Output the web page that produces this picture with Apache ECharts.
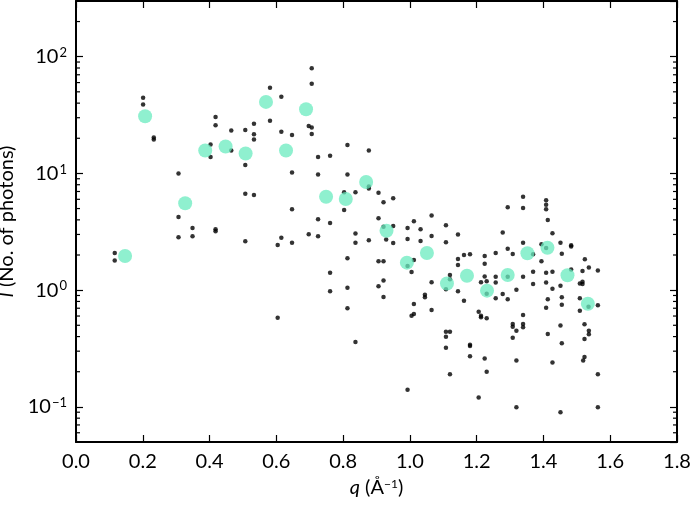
<!DOCTYPE html>
<html>
<head>
<meta charset="utf-8">
<script src="https://cdn.jsdelivr.net/npm/echarts@6/dist/echarts.min.js"></script>
<style>html,body{margin:0;padding:0;background:#fff}#c{width:692px;height:506px}</style>
</head>
<body>
<div id="c"></div>
<script>
// Binned averages (cyan)
const binQ = [0.147,0.207,0.327,0.387,0.448,0.508,0.569,0.629,0.689,0.749,0.808,0.869,0.930,0.991,1.051,1.111,1.171,1.231,1.293,1.352,1.412,1.472,1.533];
const binI = [1.96,30.9,5.55,15.7,17.0,14.8,41.0,15.7,35.5,6.32,6.04,8.45,3.23,1.72,2.08,1.14,1.33,0.99,1.35,2.07,2.31,1.34,0.764];

// Individual photon counts (black)
const photonQ = [0.116,0.116,0.201,0.201,0.233,0.233,0.307,0.307,0.307,0.349,0.349,0.403,0.403,0.418,0.418,0.418,0.418,
0.465,0.465,0.507,0.507,0.507,0.507,0.533,0.533,0.533,0.533,0.581,0.581,0.615,0.615,0.615,0.604,0.604,
0.647,0.647,0.647,0.647,0.706,0.706,0.697,0.706,0.706,0.697,0.725,0.725,0.725,0.725,0.761,0.761,0.761,0.761,
0.813,0.813,0.803,0.803,0.813,0.813,0.813,0.837,0.837,0.837,0.837,0.877,0.877,0.877,0.877,0.906,0.906,0.906,0.906,
0.921,0.950,0.950,0.921,0.929,0.950,0.921,0.921,0.921,0.993,0.993,0.993,1.005,1.012,1.012,1.012,1.005,1.012,0.993,
1.032,1.032,1.065,1.065,1.065,1.065,1.045,1.045,1.108,1.108,1.108,1.120,1.120,1.108,1.120,1.108,1.108,1.120,
1.144,1.144,1.144,1.144,1.162,1.180,1.162,1.180,1.180,1.180,1.224,1.224,1.224,1.213,1.230,1.230,1.206,1.213,1.213,1.230,1.224,1.230,1.206,
1.257,1.257,1.257,1.257,1.278,1.278,1.293,1.308,1.293,1.293,1.308,1.308,1.319,1.308,1.319,1.319,1.319,1.293,
1.339,1.339,1.339,1.339,1.339,1.339,1.339,1.369,1.369,1.369,1.394,1.394,1.408,1.408,1.408,1.413,1.408,1.408,1.408,1.413,1.408,1.413,
1.427,1.427,1.427,1.427,1.451,1.455,1.451,1.455,1.455,1.451,1.455,1.451,1.483,1.483,1.483,
1.509,1.517,1.517,1.509,1.509,1.517,1.524,1.536,1.523,1.523,1.536,1.536,1.523,1.519,1.535,1.563,1.563,1.563,1.563];
const photonI = [2.08,1.79,44.4,38.9,20.3,19.5,9.96,4.24,2.84,3.41,2.89,17.7,13.8,30.5,25.9,3.32,3.20,
23.3,15.7,23.5,11.8,6.71,2.62,26.7,21.7,19.5,6.54,54.1,28.2,45.3,22.7,2.81,2.44,0.580,
21.3,10.2,4.93,2.55,79.8,58.6,25.5,24.7,21.8,3.01,13.8,9.77,4.05,2.89,14.2,3.76,1.41,0.98,
17.5,9.77,6.90,4.86,1.88,1.05,0.698,6.90,3.05,2.55,0.359,15.7,7.71,7.41,2.67,6.84,4.13,1.77,1.08,
5.66,6.13,3.55,3.50,2.71,2.54,1.77,1.21,0.873,3.41,2.74,1.61,1.43,3.89,1.81,0.760,0.603,0.624,0.140,
3.32,2.64,4.35,2.91,1.17,0.675,0.913,0.867,3.59,2.57,1.02,1.35,1.24,0.440,0.440,0.398,0.321,0.190,
2.99,1.85,1.64,0.98,2.00,2.03,0.811,0.340,0.332,0.271,1.96,1.68,1.31,1.17,1.19,0.931,0.653,0.603,0.585,0.573,0.260,0.200,0.120,
2.08,1.30,1.16,0.851,3.11,0.926,2.26,2.04,1.30,0.834,0.512,0.485,0.449,0.391,0.250,0.0994,1.01,5.13,
6.32,5.06,2.55,1.30,0.611,0.512,0.480,2.03,1.44,1.13,2.47,1.77,5.89,5.40,4.93,3.99,2.30,1.41,1.16,0.834,0.706,0.420,
3.07,1.44,1.03,0.240,2.55,2.05,1.09,0.867,0.749,0.499,0.350,0.0901,2.42,2.36,1.50,
1.14,1.18,1.13,0.851,0.666,1.46,1.84,1.56,0.509,0.381,0.449,0.418,0.268,0.250,0.721,1.47,0.741,0.190,0.0994];

// Axis settings
const xTicks = [0.0,0.2,0.4,0.6,0.8,1.0,1.2,1.4,1.6,1.8];
const yMinorTicks = [0.06,0.07,0.08,0.09,0.2,0.3,0.4,0.5,0.6,0.7,0.8,0.9,2,3,4,5,6,7,8,9,20,30,40,50,60,70,80,90,200,300];

const FONT = 'Lato';
const FS = 20;
const chart = echarts.init(document.getElementById('c'), null, {renderer:'canvas'});

const axisLineStyle = {color:'#000', width:2};
const photonData = photonQ.map((q,i)=>[q, photonI[i]]);
const binData = binQ.map((q,i)=>[q, binI[i]]);
const minorData = yMinorTicks.map(v=>[0, v]);

const xCommon = {
  type:'value', min:xTicks[0], max:xTicks[xTicks.length-1], interval:0.2,
  axisLine:{show:true, onZero:false, lineStyle:axisLineStyle},
  axisTick:{show:true, inside:true, length:7, lineStyle:{color:'#000', width:1.2}},
  splitLine:{show:false}
};
const yCommon = {
  type:'log', logBase:10, min:0.05, max:300,
  axisLine:{show:true, onZero:false, lineStyle:axisLineStyle},
  axisTick:{show:true, inside:true, length:7, lineStyle:{color:'#000', width:1.2}},
  splitLine:{show:false}
};

chart.setOption({
  backgroundColor:'#fff',
  animation:false,
  grid:{left:76, right:15, top:1, bottom:64, containLabel:false, outerBoundsMode:'none'},
  xAxis:[
    Object.assign({}, xCommon, {
      position:'bottom',
      axisLabel:{show:true, margin:10, fontFamily:FONT, fontSize:FS, color:'#000',
        formatter:v=>v.toFixed(1)},
      name:'{i|q} (Å{s|−1})', nameLocation:'middle', nameGap:36,
      nameTextStyle:{fontFamily:FONT, fontSize:FS, color:'#000',
        rich:{i:{fontStyle:'italic', fontFamily:FONT, fontSize:FS}, s:{fontSize:12, fontFamily:FONT, verticalAlign:'top', padding:[0,0,8,0]}}}
    }),
    Object.assign({}, xCommon, {position:'top', axisLabel:{show:false}})
  ],
  yAxis:[
    Object.assign({}, yCommon, {
      position:'left',
      axisLabel:{show:true, margin:9, showMinLabel:false, showMaxLabel:false,
        formatter:v=>{const e=Math.round(Math.log10(v)); return '{b|10}{s|'+(e<0?'−'+(-e):e)+'}';},
        rich:{b:{fontFamily:FONT, fontSize:FS, color:'#000'}, s:{fontFamily:FONT, fontSize:13, color:'#000', verticalAlign:'top', padding:[0,0,8,1]}}},
      name:'{i|I} (No. of photons)', nameLocation:'middle', nameGap:53, nameRotate:90,
      nameTextStyle:{fontFamily:FONT, fontSize:FS, color:'#000',
        rich:{i:{fontStyle:'italic', fontFamily:FONT, fontSize:FS}}}
    }),
    Object.assign({}, yCommon, {position:'right', axisLabel:{show:false}})
  ],
  series:[
    {
      type:'custom', xAxisIndex:0, yAxisIndex:0, silent:true, clip:false, z:1,
      data:minorData,
      renderItem:(params, api)=>{
        const v = api.value(1);
        const pL = api.coord([xTicks[0], v]);
        const pR = api.coord([xTicks[xTicks.length-1], v]);
        return {type:'group', children:[
          {type:'line', shape:{x1:pL[0], y1:pL[1], x2:pL[0]+4, y2:pL[1]}, style:{stroke:'#000', lineWidth:1.2}},
          {type:'line', shape:{x1:pR[0], y1:pR[1], x2:pR[0]-4, y2:pR[1]}, style:{stroke:'#000', lineWidth:1.2}}
        ]};
      }
    },
    {
      type:'scatter', xAxisIndex:0, yAxisIndex:0, data:photonData, symbol:'circle', symbolSize:4.5,
      itemStyle:{color:'#000'}, z:2
    },
    {
      type:'scatter', xAxisIndex:0, yAxisIndex:0, data:binData, symbol:'circle', symbolSize:14,
      itemStyle:{color:'rgb(106,235,191)', opacity:0.75}, z:3
    }
  ]
});
</script>
</body>
</html>
